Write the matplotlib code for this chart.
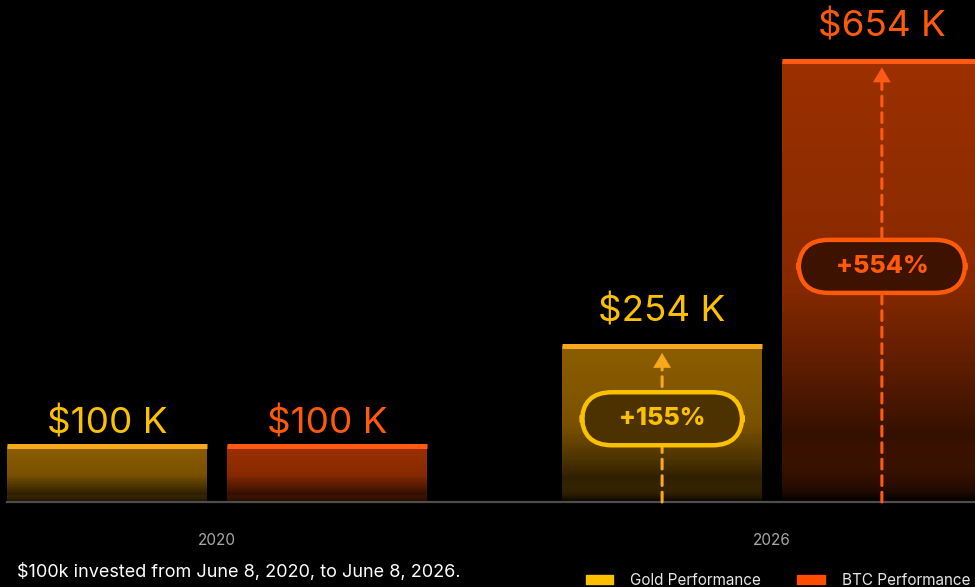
import matplotlib.pyplot as plt
import numpy as np
from matplotlib.colors import LinearSegmentedColormap
from matplotlib.patches import Patch

# values in $K
years = ["2020", "2026"]
gold_values = [100, 254]
btc_values = [100, 654]
gold_labels = ["$100 K", "$254 K"]
btc_labels = ["$100 K", "$654 K"]
gold_change = [None, "+155%"]
btc_change = [None, "+554%"]
note = "$100k invested from June 8, 2020, to June 8, 2026."

plt.rcParams['font.family'] = ['Inter', 'DejaVu Sans']

gold = dict(line="#f6a91c", text="#fbc100", body="#8c5e00", pill="#4b3200", legend="#fbbf00")
btc = dict(line="#ff5a14", text="#ff5a0a", body="#9c3000", pill="#3d1300", legend="#ff4d00")

fig = plt.figure(figsize=(9.75, 5.87), dpi=100, facecolor="black")
ax = fig.add_axes([7 / 975, 85 / 587, 968 / 975, 502 / 587])
ax.set_facecolor("black")

# bar heights in the original are slightly super-linear
p = 1.1
ax.set_yscale("function", functions=(lambda v: np.abs(v) ** p, lambda v: np.abs(v) ** (1 / p)))
ax.set_ylim(0, 735)
ax.set_xlim(-0.3784, 1.3658)

width = 0.3604
offset = 0.198
x = np.arange(len(years))


def draw_bar(xc, v, label, change, c, label_off):
    x0, x1 = xc - width / 2, xc + width / 2
    cmap = LinearSegmentedColormap.from_list(
        "g", [(0, "black"), (0.25, c["body"] + "55"), (0.6, c["body"] + "dd"), (1, c["body"])])
    ys = np.linspace(0, v, 120)
    t = np.linspace(0, 1, 119)[:, None] ** 0.8
    ax.pcolormesh([x0, x1], ys, t, cmap=cmap, vmin=0, vmax=1, shading="flat")
    ax.hlines(v, x0, x1, color=c["line"], lw=3.6)
    ax.annotate(label, xy=(xc, v), xytext=(0, label_off), textcoords="offset points",
                ha="center", va="baseline", fontsize=26.5, color=c["text"])
    if change:
        # dashed shaft
        ax.annotate("", xy=(xc, v), xytext=(xc, 0),
                    arrowprops=dict(arrowstyle="-", color=c["line"], lw=2.2,
                                    linestyle=(0, (3.2, 2.2)), shrinkA=0, shrinkB=14))
        # solid head
        ax.annotate("", xy=(xc, v), xytext=(0, -15), textcoords="offset points",
                    arrowprops=dict(arrowstyle="-|>,head_length=0.5,head_width=0.3",
                                    mutation_scale=20, color=c["line"], lw=0.5,
                                    shrinkA=0, shrinkB=5))
        ax.text(xc, v * 0.565, "    " + change + "    ", ha="center", va="center",
                fontsize=18, fontweight="heavy", color=c["text"],
                bbox=dict(boxstyle="round,pad=0.6,rounding_size=1.2",
                          fc=c["pill"], ec=c["text"], lw=3.2))


for i in x:
    off = 9 if i == 0 else 17.5
    draw_bar(i - offset, gold_values[i], gold_labels[i], gold_change[i], gold, off)
    draw_bar(i + offset, btc_values[i], btc_labels[i], btc_change[i], btc, off)

ax.set_xticks(x, years)
ax.tick_params(axis="x", length=0, pad=22, colors="#a8a8a8", labelsize=11)
ax.set_yticks([])
for s in ["top", "left", "right"]:
    ax.spines[s].set_visible(False)
ax.spines["bottom"].set_color("#4d4d4d")
ax.spines["bottom"].set_linewidth(1.6)

fig.text(17 / 975, 15 / 587, note, color="white", fontsize=13, va="center", ha="left")

handles = [Patch(color=gold["legend"], label="Gold Performance"),
           Patch(color=btc["legend"], label="BTC Performance")]
fig.legend(handles=handles, loc="lower right", bbox_to_anchor=(1.006, -0.02), ncol=2,
           frameon=False, fontsize=11, labelcolor="#e6e6e6", handlelength=1.8,
           handleheight=0.45, handletextpad=1.1, columnspacing=2.4, borderpad=0.2)

fig.savefig("out.png", dpi=100, facecolor="black")
